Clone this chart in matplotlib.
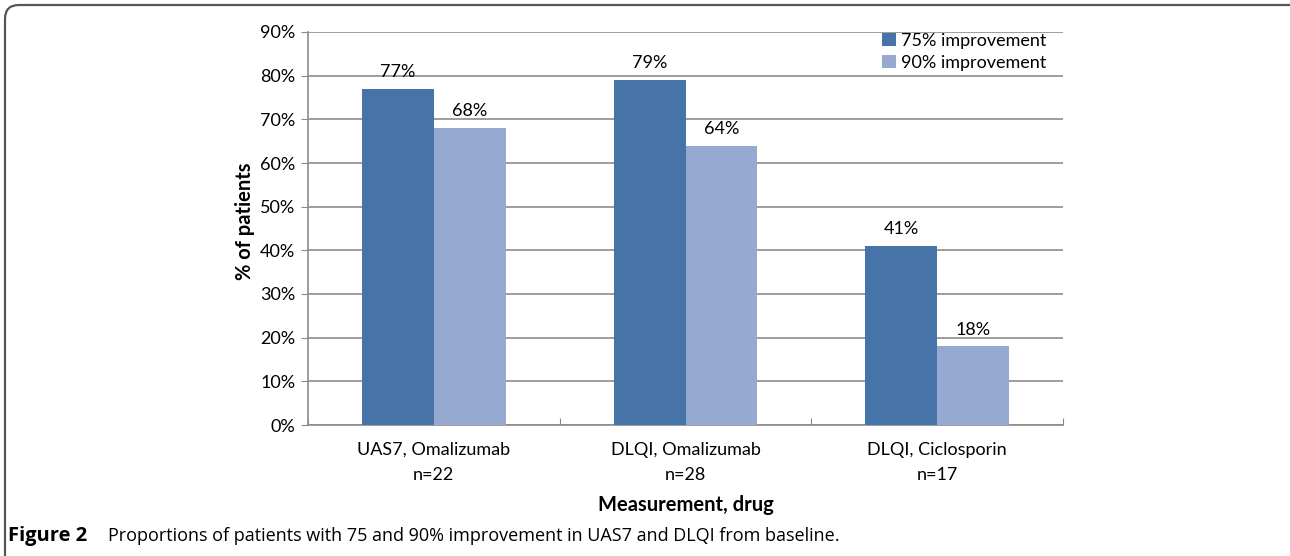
import matplotlib.pyplot as plt
import numpy as np
from matplotlib.patches import FancyBboxPatch

# dados do gráfico
categorias = ['UAS7, Omalizumab\nn=22', 'DLQI, Omalizumab\nn=28', 'DLQI, Ciclosporin\nn=17']
melhora_75 = [77, 79, 41]
melhora_90 = [68, 64, 18]
series = ['75% improvement', '90% improvement']

cor_75 = '#4674A8'
cor_90 = '#95A9D1'
fonte = 'Lato'
tam = 13

fig = plt.figure(figsize=(12.9, 5.56), dpi=100)
ax = fig.add_axes([308 / 1290, 1 - 425 / 556, 755 / 1290, 393 / 556])

x = np.arange(len(categorias))
larg = 0.285
b1 = ax.bar(x - larg / 2, melhora_75, larg, color=cor_75, label=series[0], zorder=3)
b2 = ax.bar(x + larg / 2, melhora_90, larg, color=cor_90, label=series[1], zorder=3)

for barras in (b1, b2):
    for b in barras:
        ax.text(b.get_x() + b.get_width() / 2, b.get_height() + 2.0, f'{b.get_height():.0f}%',
                ha='center', va='bottom', fontsize=tam, family=fonte)

ax.set_xlim(-0.5, 2.5)
ax.set_ylim(0, 90)
ax.set_yticks(range(0, 91, 10))
ax.set_yticklabels([f'{v}%' for v in range(0, 91, 10)], fontsize=tam, family=fonte)
ax.set_xticks([-0.5, 0.5, 1.5, 2.5])
ax.set_xticklabels([])
ax.set_xticks(x, minor=True)
ax.set_xticklabels(categorias, minor=True, fontsize=tam, family=fonte, linespacing=1.75)
ax.tick_params(axis='x', which='minor', length=0, pad=12)
ax.tick_params(axis='x', which='major', length=5, color='#888888', direction='in')
ax.tick_params(axis='y', length=5, color='#888888', pad=4)

ax.grid(axis='y', color='#8c8c8c', linewidth=1.2, zorder=0)
for lado in ['top', 'right']:
    ax.spines[lado].set_visible(False)
ax.spines['left'].set_color('#8c8c8c')
ax.spines['bottom'].set_color('#8c8c8c')
ax.spines['left'].set_linewidth(1.2)
ax.spines['bottom'].set_linewidth(1.2)

ax.set_ylabel('% of patients', fontsize=14.5, fontweight='bold', family=fonte)
ax.yaxis.set_label_coords(-0.07, 0.518)
ax.set_xlabel('Measurement, drug', fontsize=14.5, fontweight='bold', family=fonte, labelpad=8)

ax.legend(loc='upper right', bbox_to_anchor=(1.0, 1.04), frameon=False, prop={'family': fonte, 'size': tam},
          handlelength=0.75, handleheight=0.75, handletextpad=0.3, labelspacing=0.35)

# legenda da figura e moldura arredondada
y_leg = 1 - 536 / 556
fig.text(8 / 1290, y_leg, 'Figure 2', fontsize=14.5, va='center', family='Open Sans', fontweight='bold')
fig.text(108 / 1290, y_leg,
         'Proportions of patients with 75 and 90% improvement in UAS7 and DLQI from baseline.',
         fontsize=13, va='center', family='Open Sans')

moldura = FancyBboxPatch((5, -20), 1300, 571, boxstyle='round,pad=0,rounding_size=14',
                         transform=None, facecolor='none', edgecolor='#555555', linewidth=1.6,
                         clip_on=False)
fig.patches.append(moldura)

fig.savefig('out.png', dpi=100)
